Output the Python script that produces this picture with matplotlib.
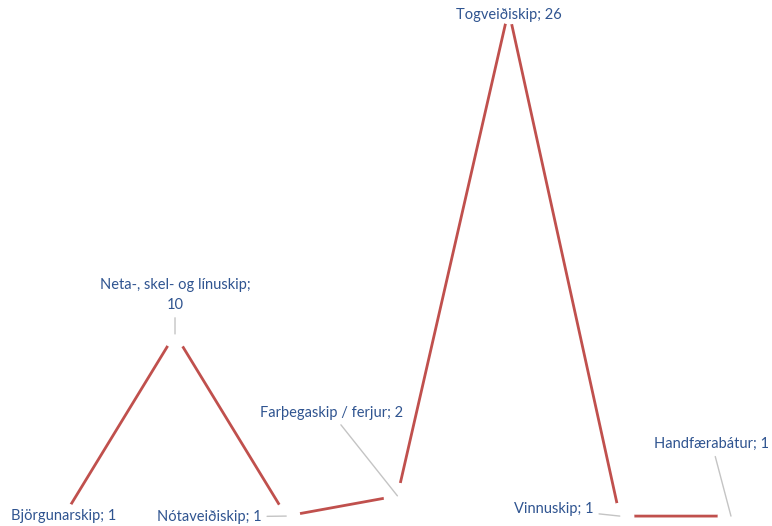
import matplotlib
matplotlib.use("Agg")
import matplotlib.pyplot as plt

categories = ["Björgunarskip", "Neta-, skel- og línuskip", "Nótaveiðiskip",
              "Farþegaskip / ferjur", "Togveiðiskip", "Vinnuskip", "Handfærabátur"]
values = [1, 10, 1, 2, 26, 1, 1]
label_texts = ["Björgunarskip; 1", "Neta-, skel- og línuskip;\n10", "Nótaveiðiskip; 1",
               "Farþegaskip / ferjur; 2", "Togveiðiskip; 26", "Vinnuskip; 1", "Handfærabátur; 1"]

# label offsets in pixels (dx, dy) and whether a leader line is drawn
label_offsets = [(0, 0), (0, 39), (-77, -1), (-66, 83), (0, -5), (-66, 7), (-19, 72)]
leaders = [False, True, True, True, False, True, True]

LINE = "#C0504D"
TEXT = "#2F5490"
LEAD = "#C4C4C4"

plt.rcParams['font.family'] = ['Lato', 'DejaVu Sans']

fig = plt.figure(figsize=(7.72, 5.26), dpi=100)
ax = fig.add_axes([0, 0, 1, 1])
x = list(range(len(categories)))
ax.plot(x, values, color=LINE, lw=2.0, marker='o', markersize=19,
        markerfacecolor='white', markeredgecolor='white', zorder=2)
ax.set_xlim(-0.574, 6.369)
ax.set_ylim(0.51, 26.5)
ax.axis('off')

for xi, v, t, off, ld in zip(x, values, label_texts, label_offsets, leaders):
    ap = dict(arrowstyle='-', color=LEAD, lw=1.0, shrinkA=2, shrinkB=0) if ld else None
    ax.annotate(t, xy=(xi, v), xytext=off, textcoords='offset pixels',
                ha='center', va='center', color=TEXT, fontsize=10.5,
                linespacing=1.6, arrowprops=ap, zorder=5)

fig.savefig("out.png", dpi=100)
